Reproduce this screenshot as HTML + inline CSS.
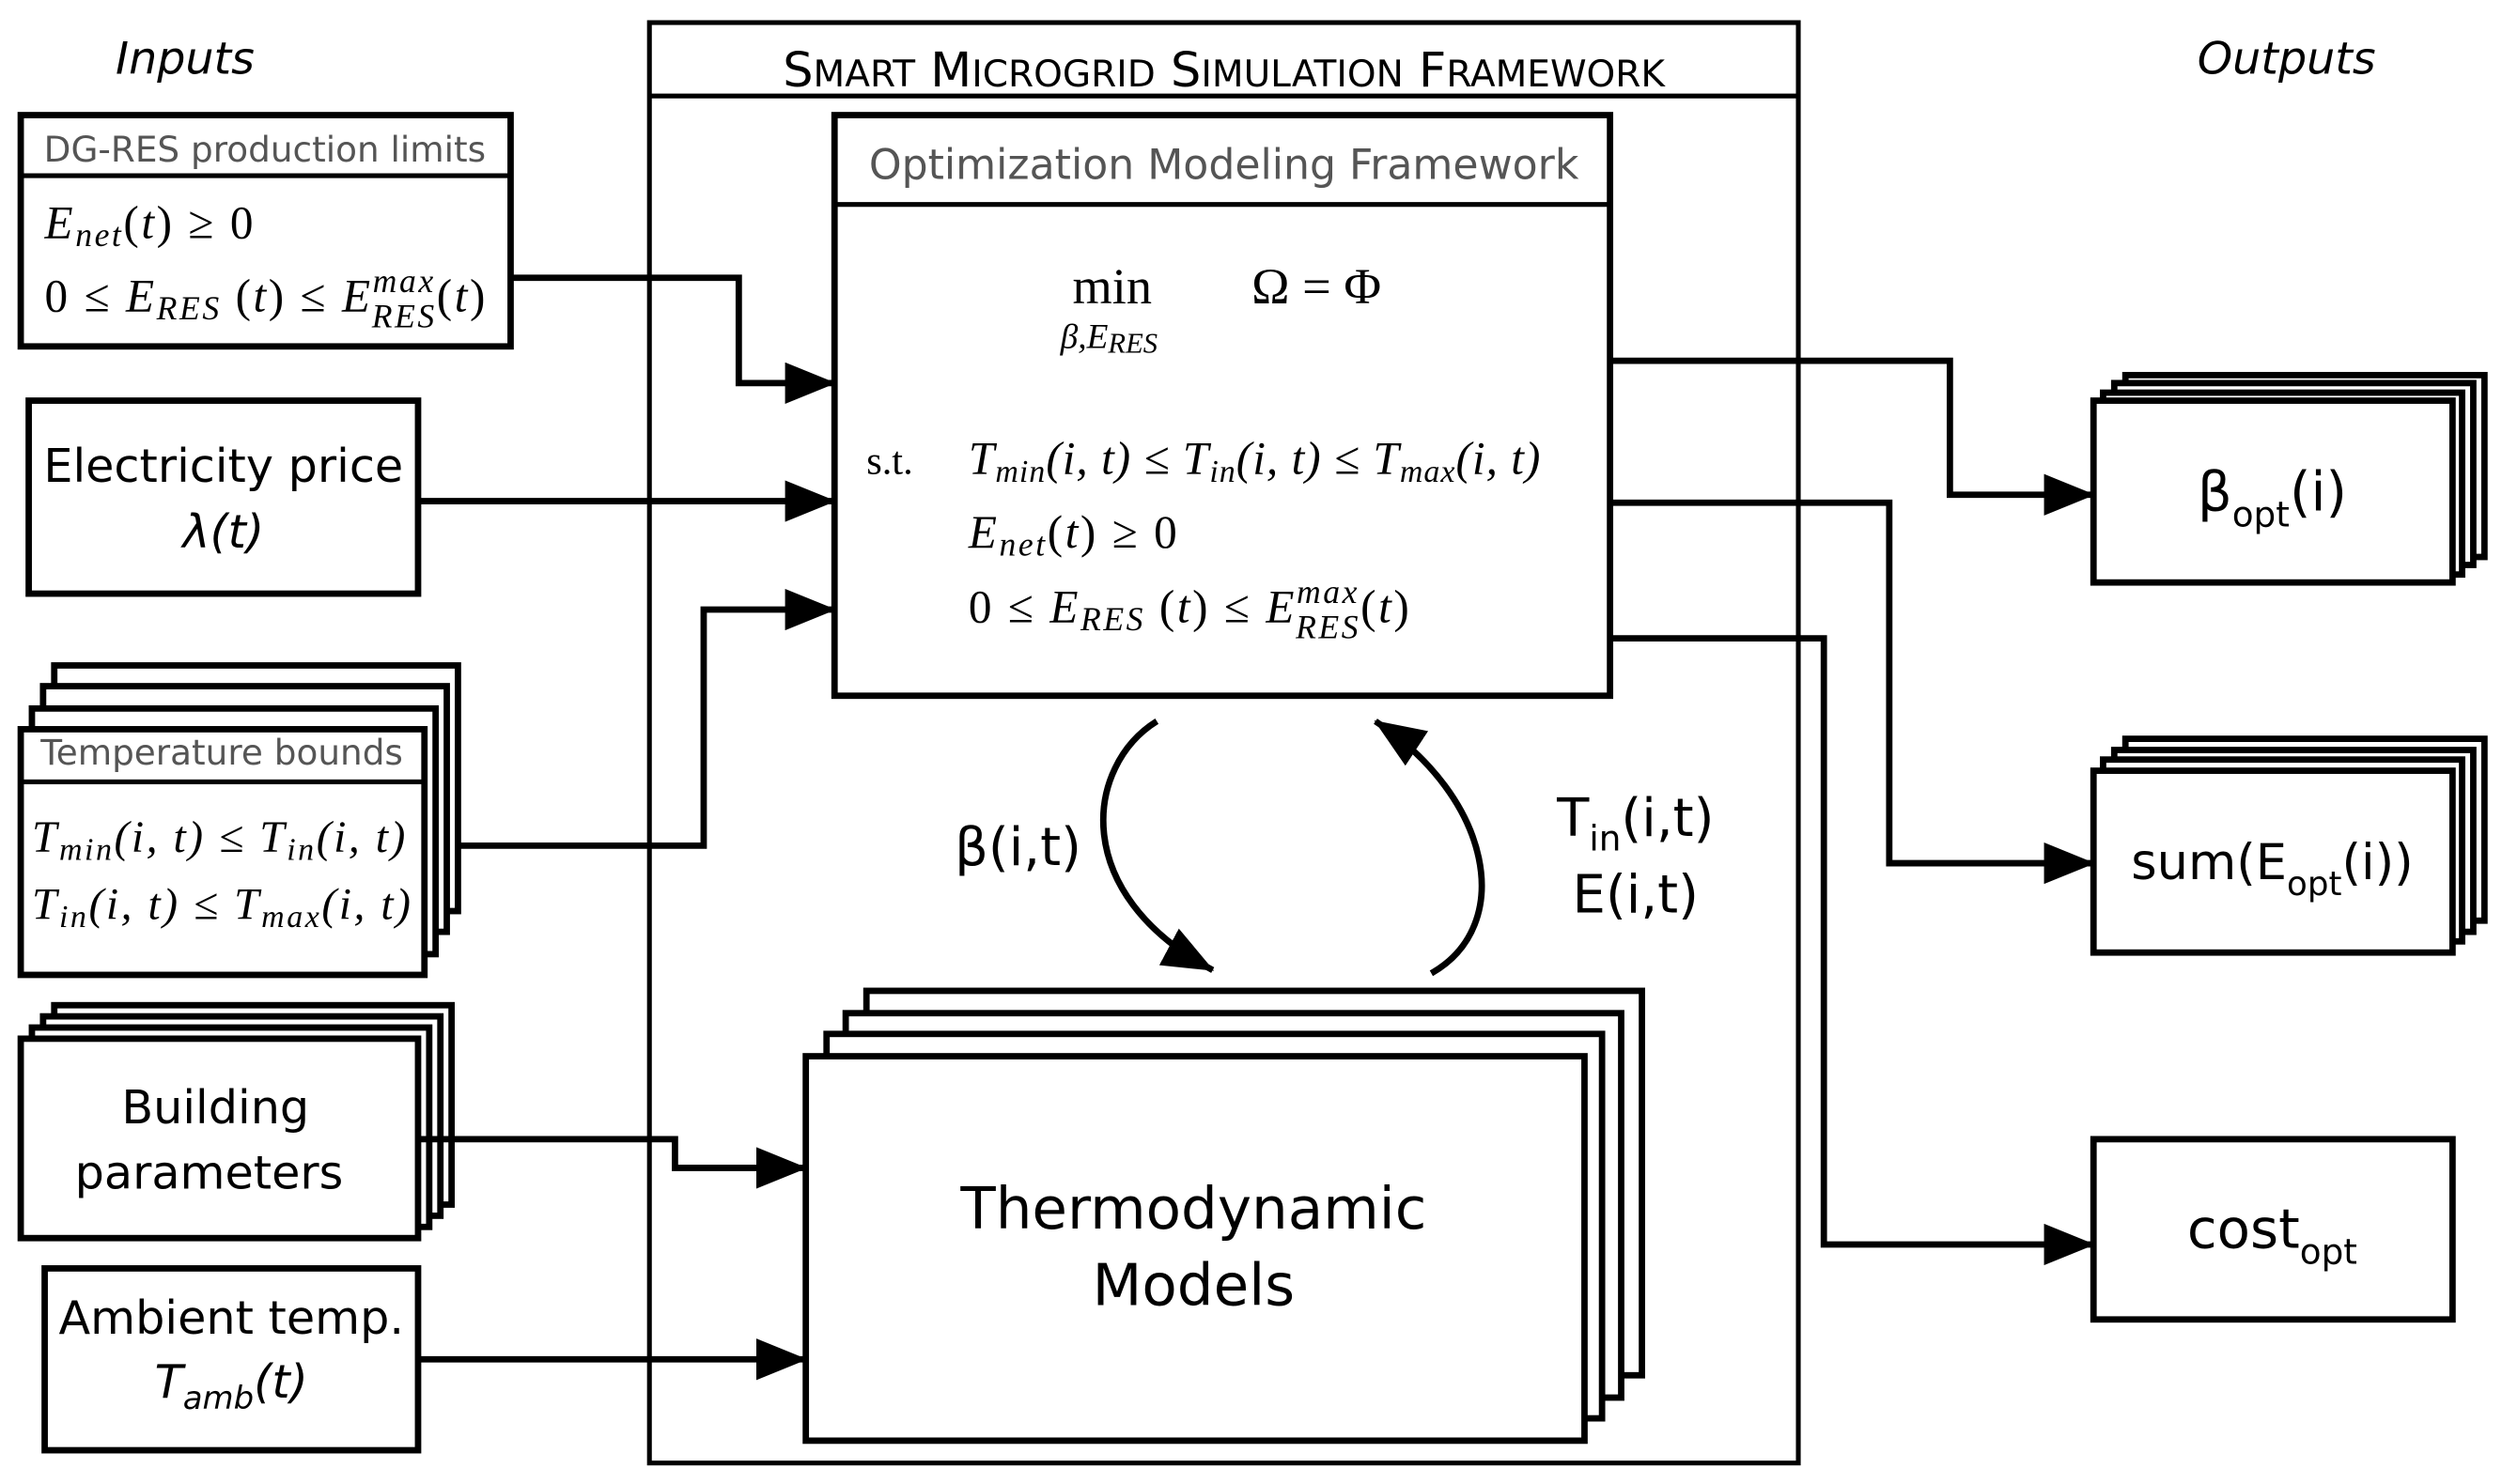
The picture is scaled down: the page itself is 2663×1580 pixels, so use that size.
<!DOCTYPE html>
<html><head><meta charset="utf-8"><style>
html,body{margin:0;padding:0;background:#fff;}
svg{display:block;}
.s{font-family:"DejaVu Sans","Liberation Sans",sans-serif;}
.m{font-family:"Liberation Serif",serif;font-style:italic;}
.r{font-family:"Liberation Serif",serif;}
</style></head><body>
<svg width="2663" height="1580" viewBox="0 0 1568 930" xmlns="http://www.w3.org/2000/svg">
<defs>
<marker id="ah" markerWidth="32" markerHeight="26" refX="31" refY="13" orient="auto" markerUnits="userSpaceOnUse">
<path d="M0,0 L32,13 L0,26 Z" fill="#000"/></marker>
</defs>
<g fill="#fff" stroke="#000" stroke-width="4">
<rect x="407" y="14" width="720" height="903" stroke-width="3"/>
<line x1="407" y1="60" x2="1127" y2="60" stroke-width="3"/>
<rect x="13" y="72" width="307" height="145"/>
<line x1="13" y1="110" x2="320" y2="110" stroke-width="3"/>
<rect x="18" y="251" width="244" height="121"/>
<rect x="34" y="417" width="253" height="154"/>
<rect x="27" y="430" width="253" height="154"/>
<rect x="20" y="444" width="253" height="154"/>
<rect x="13" y="457" width="253" height="154"/>
<line x1="13" y1="490" x2="266" y2="490" stroke-width="3"/>
<rect x="34" y="630" width="249" height="125"/>
<rect x="27" y="637" width="249" height="125"/>
<rect x="20" y="644" width="249" height="125"/>
<rect x="13" y="651" width="249" height="125"/>
<rect x="28" y="795" width="234" height="114"/>
<rect x="523" y="72" width="486" height="364"/>
<line x1="523" y1="128" x2="1009" y2="128" stroke-width="3"/>
<rect x="543" y="621" width="486" height="241"/>
<rect x="530" y="635" width="486" height="241"/>
<rect x="518" y="648" width="486" height="241"/>
<rect x="505" y="662" width="488" height="241"/>
<rect x="1332" y="235" width="225" height="114"/>
<rect x="1325" y="240" width="225" height="114"/>
<rect x="1318" y="246" width="225" height="114"/>
<rect x="1312" y="251" width="225" height="114"/>
<rect x="1332" y="463" width="225" height="114"/>
<rect x="1325" y="470" width="225" height="114"/>
<rect x="1318" y="476" width="225" height="114"/>
<rect x="1312" y="483" width="225" height="114"/>
<rect x="1312" y="714" width="225" height="113"/>
</g>
<g fill="none" stroke="#000" stroke-width="4">
<polyline points="320,174 463,174 463,240 523,240" marker-end="url(#ah)"/>
<polyline points="262,314 523,314" marker-end="url(#ah)"/>
<polyline points="287,530 441,530 441,382 523,382" marker-end="url(#ah)"/>
<polyline points="262,714 423,714 423,732 505,732" marker-end="url(#ah)"/>
<polyline points="262,852 505,852" marker-end="url(#ah)"/>
<polyline points="1009,226 1222,226 1222,310 1312,310" marker-end="url(#ah)"/>
<polyline points="1009,315 1184,315 1184,541 1312,541" marker-end="url(#ah)"/>
<polyline points="1009,400 1143,400 1143,780 1312,780" marker-end="url(#ah)"/>
<path d="M725,452 C680,480 670,560 760,608" marker-end="url(#ah)"/>
<path d="M897,610 C950,580 935,500 862,452" marker-end="url(#ah)"/>
</g>
<g fill="#000">
<text x="116" y="46" class="s" font-size="28" font-style="italic" text-anchor="middle">Inputs</text>
<text x="1433" y="46" class="s" font-size="28" font-style="italic" text-anchor="middle">Outputs</text>
<text x="767" y="54" class="s" font-size="30" text-anchor="middle">S<tspan font-size="23">MART</tspan> M<tspan font-size="23">ICROGRID</tspan> S<tspan font-size="23">IMULATION</tspan> F<tspan font-size="23">RAMEWORK</tspan></text>
<text x="166" y="101" class="s" font-size="22" fill="#555" text-anchor="middle">DG-RES production limits</text>
<text x="28" y="149" class="m" font-size="29" letter-spacing="1.5">E<tspan font-size="21" dy="5">net</tspan><tspan dy="-5" font-style="normal">(</tspan>t<tspan font-style="normal">) ≥ 0</tspan></text>
<text x="28" y="195" class="m" font-size="29" letter-spacing="1.5"><tspan font-style="normal">0 ≤ </tspan>E<tspan font-size="21" dy="5">RES</tspan><tspan dy="-5" font-style="normal"> (</tspan>t<tspan font-style="normal">) ≤ </tspan>E<tspan font-size="21" dy="-12">max</tspan><tspan font-size="21" dx="-40" dy="22">RES</tspan><tspan dy="-10" font-style="normal">(</tspan>t<tspan font-style="normal">)</tspan></text>
<text x="140" y="302" class="s" font-size="29" text-anchor="middle">Electricity price</text>
<text x="140" y="343" class="s" font-size="29" font-style="italic" text-anchor="middle">λ(t)</text>
<text x="139" y="479" class="s" font-size="22" fill="#555" text-anchor="middle">Temperature bounds</text>
<text x="20" y="534" class="m" font-size="28" letter-spacing="1.5">T<tspan font-size="20" dy="5">min</tspan><tspan dy="-5">(i, t) ≤ T</tspan><tspan font-size="20" dy="5">in</tspan><tspan dy="-5">(i, t)</tspan></text>
<text x="20" y="576" class="m" font-size="28" letter-spacing="1.5">T<tspan font-size="20" dy="5">in</tspan><tspan dy="-5">(i, t) ≤ T</tspan><tspan font-size="20" dy="5">max</tspan><tspan dy="-5">(i, t)</tspan></text>
<text x="135" y="704" class="s" font-size="29" text-anchor="middle">Building</text>
<text x="131" y="745" class="s" font-size="29" text-anchor="middle">parameters</text>
<text x="145" y="836" class="s" font-size="29" text-anchor="middle">Ambient temp.</text>
<text x="145" y="876" class="s" font-size="29" font-style="italic" text-anchor="middle">T<tspan font-size="20" dy="7">amb</tspan><tspan dy="-7">(t)</tspan></text>
<text x="767" y="112" class="s" font-size="26" fill="#555" text-anchor="middle">Optimization Modeling Framework</text>
<text x="697" y="190" class="r" font-size="32" text-anchor="middle">min</text>
<text x="695" y="218" class="m" font-size="22" text-anchor="middle">β,E<tspan font-size="18" dy="3">RES</tspan></text>
<text x="825" y="190" class="r" font-size="32" text-anchor="middle">Ω = Φ</text>
<text x="543" y="297" class="r" font-size="25">s.t.</text>
<text x="607" y="297" class="m" font-size="29" letter-spacing="0.6">T<tspan font-size="20" dy="5">min</tspan><tspan dy="-5">(i, t) ≤ T</tspan><tspan font-size="20" dy="5">in</tspan><tspan dy="-5">(i, t) ≤ T</tspan><tspan font-size="20" dy="5">max</tspan><tspan dy="-5">(i, t)</tspan></text>
<text x="607" y="343" class="m" font-size="29" letter-spacing="1.5">E<tspan font-size="21" dy="5">net</tspan><tspan dy="-5" font-style="normal">(</tspan>t<tspan font-style="normal">) ≥ 0</tspan></text>
<text x="607" y="390" class="m" font-size="29" letter-spacing="1.5"><tspan font-style="normal">0 ≤ </tspan>E<tspan font-size="21" dy="5">RES</tspan><tspan dy="-5" font-style="normal"> (</tspan>t<tspan font-style="normal">) ≤ </tspan>E<tspan font-size="21" dy="-12">max</tspan><tspan font-size="21" dx="-40" dy="22">RES</tspan><tspan dy="-10" font-style="normal">(</tspan>t<tspan font-style="normal">)</tspan></text>
<text x="748" y="770" class="s" font-size="36" text-anchor="middle">Thermodynamic</text>
<text x="748" y="818" class="s" font-size="36" text-anchor="middle">Models</text>
<text x="638" y="542" class="s" font-size="33" text-anchor="middle">β(i,t)</text>
<text x="1025" y="524" class="s" font-size="33" text-anchor="middle">T<tspan font-size="22" dy="9">in</tspan><tspan dy="-9">(i,t)</tspan></text>
<text x="1025" y="572" class="s" font-size="33" text-anchor="middle">E(i,t)</text>
<text x="1424" y="320" class="s" font-size="34" text-anchor="middle">β<tspan font-size="22" dy="10">opt</tspan><tspan dy="-10">(i)</tspan></text>
<text x="1424" y="551" class="s" font-size="31" text-anchor="middle">sum(E<tspan font-size="21" dy="10">opt</tspan><tspan dy="-10">(i))</tspan></text>
<text x="1424" y="782" class="s" font-size="34" text-anchor="middle">cost<tspan font-size="22" dy="10">opt</tspan></text>
</g>
</svg>
</body></html>
